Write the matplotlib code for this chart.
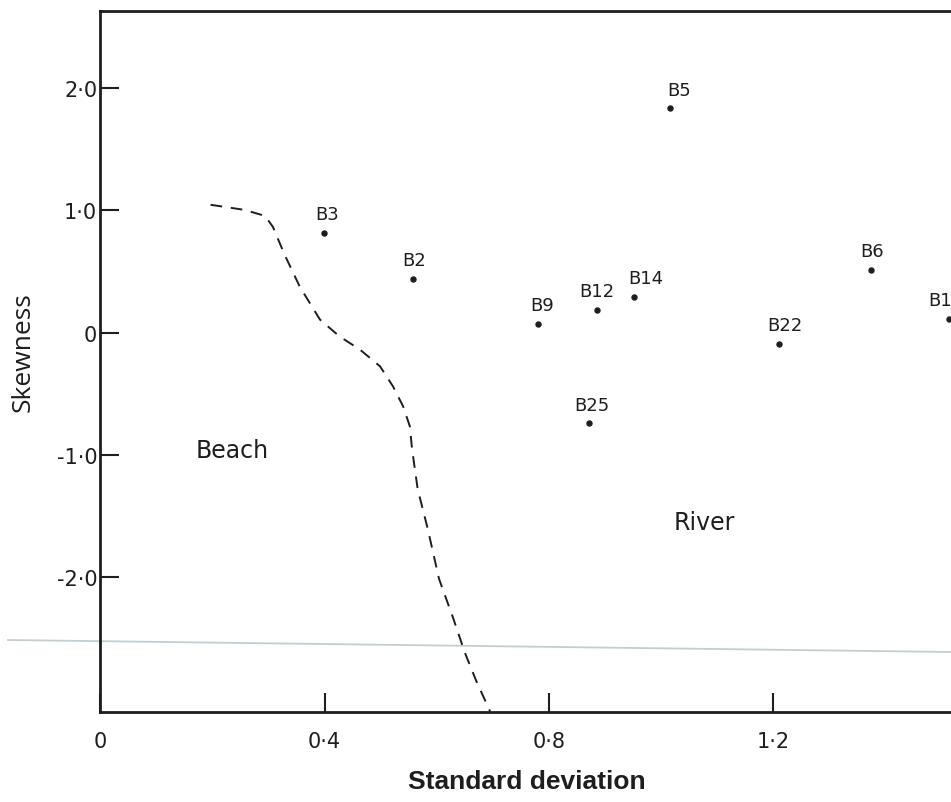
import matplotlib
matplotlib.use("Agg")
import matplotlib.pyplot as plt
from matplotlib.lines import Line2D

# sample points: standard deviation vs skewness
samples = ["B5", "B3", "B2", "B9", "B12", "B14", "B25", "B22", "B6", "B11"]
std_dev = [1.015, 0.399, 0.558, 0.780, 0.885, 0.951, 0.871, 1.210, 1.373, 1.512]
skewness = [1.835, 0.814, 0.439, 0.075, 0.189, 0.293, -0.740, -0.088, 0.513, 0.116]

# beach / river boundary (dashed line)
bound_x = [0.197, 0.258, 0.294, 0.308, 0.329, 0.356, 0.392, 0.427, 0.463, 0.499,
           0.522, 0.540, 0.552, 0.556, 0.566, 0.584, 0.604, 0.629, 0.650, 0.670, 0.695]
bound_y = [1.046, 1.004, 0.955, 0.866, 0.637, 0.376, 0.107, -0.031, -0.137, -0.275,
           -0.438, -0.601, -0.764, -0.951, -1.277, -1.604, -2.011, -2.329, -2.614, -2.842, -3.095]

xticks = [0, 0.4, 0.8, 1.2]
xtick_labels = ["0", "0·4", "0·8", "1·2"]
yticks = [2, 1, 0, -1, -2]
ytick_labels = ["2·0", "1·0", "0", "-1·0", "-2·0"]

# small horizontal nudges of the sample labels (points)
label_dx = [7, 2, 1, 3, 0, 9, 2, 4, 1, -2]

ink = "#1e1e1e"

fig = plt.figure(figsize=(9.51, 8.03), dpi=100)
ax = fig.add_axes([100 / 951, 90 / 803, 898 / 951, 701 / 803])
ax.set_facecolor("none")

ax.plot(bound_x, bound_y, color=ink, lw=1.4, dashes=(6, 4.5), clip_on=False)
ax.plot(std_dev, skewness, "o", color=ink, ms=3.6, clip_on=False)
for name, x, y, dx in zip(samples, std_dev, skewness, label_dx):
    ax.annotate(name, (x, y), xytext=(dx, 7), textcoords="offset points",
                ha="center", va="bottom", fontsize=13, color=ink,
                annotation_clip=False)

ax.text(0.235, -0.96, "Beach", fontsize=17, color=ink, ha="center", va="center")
ax.text(1.077, -1.55, "River", fontsize=17, color=ink, ha="center", va="center")

ax.set_xlim(0, 1.6)
ax.set_ylim(-3.10, 2.63)
ax.set_xticks(xticks, xtick_labels)
ax.set_yticks(yticks, ytick_labels)
ax.tick_params(direction="in", length=14, width=1.5, color=ink, labelsize=15,
               labelcolor=ink)
ax.tick_params(axis="x", pad=14)
ax.tick_params(axis="y", pad=2)

for side in ["left", "bottom", "top"]:
    ax.spines[side].set_linewidth(2.0)
    ax.spines[side].set_color(ink)
ax.spines["right"].set_visible(False)

ax.set_xlabel("Standard deviation", fontsize=19, fontweight="bold",
              family="Liberation Sans", color=ink)
ax.xaxis.set_label_coords(0.4755, -0.082)
ax.set_ylabel("Skewness", fontsize=19, family="Open Sans", color=ink)
ax.yaxis.set_label_coords(-0.072, 0.515)

# faint scan line across the page
fig.add_artist(Line2D([8 / 951, 1], [1 - 641 / 803, 1 - 653 / 803],
                      transform=fig.transFigure, color="#c3ced2", lw=1.3, zorder=-1))

fig.savefig("out.png", dpi=100)
